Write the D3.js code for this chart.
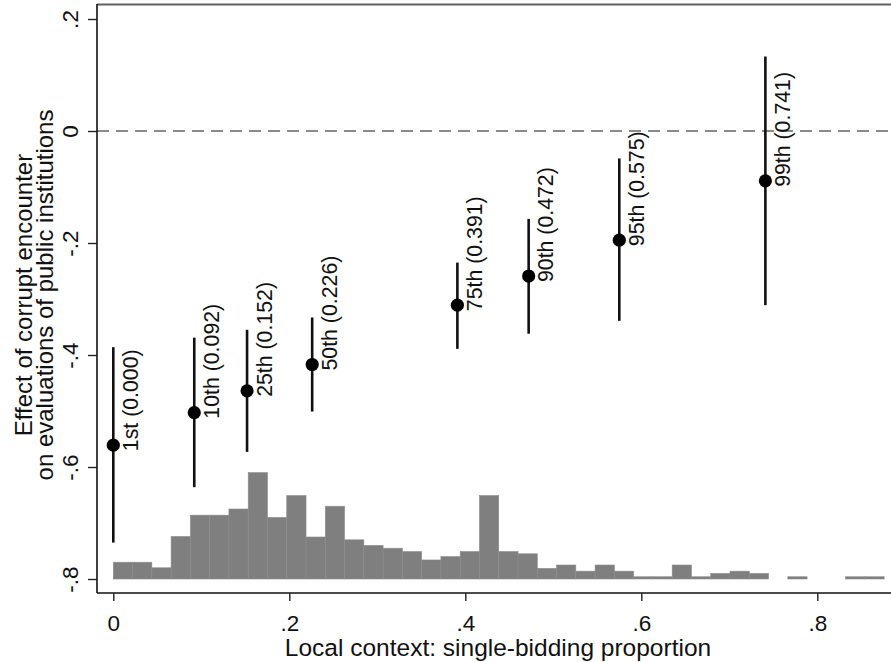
<!DOCTYPE html>
<html>
<head>
<meta charset="utf-8">
<script src="https://cdn.jsdelivr.net/npm/d3@7"></script>
<style>
  body { margin: 0; background: #fff; }
  svg { display: block; font-family: "Liberation Sans", Arial, Helvetica, sans-serif; }
</style>
</head>
<body>
<div id="chart"></div>
<script>
// Percentile labels and the single-bidding proportion at each of them
const pointLabels = ['1st (0.000)', '10th (0.092)', '25th (0.152)', '50th (0.226)',
                     '75th (0.391)', '90th (0.472)', '95th (0.575)', '99th (0.741)'];
const pointX = [0, 0.092, 0.152, 0.226, 0.391, 0.472, 0.575, 0.741];

// Marginal effect and 95% CI
const effect = [-0.561, -0.503, -0.464, -0.417, -0.311, -0.259, -0.195, -0.089];
const ciLow  = [-0.735, -0.636, -0.573, -0.501, -0.389, -0.362, -0.339, -0.311];
const ciHigh = [-0.386, -0.369, -0.355, -0.333, -0.235, -0.157, -0.049, 0.133];

// Histogram of the moderator: bin width and bar tops (drawn up from -.8), null = empty bin
const binWidth = 0.0219;
const histTop = [-0.770, -0.770, -0.780, -0.724, -0.686, -0.686, -0.675, -0.610, -0.690, -0.651,
                 -0.725, -0.670, -0.730, -0.740, -0.745, -0.751, -0.766, -0.760, -0.751, -0.651,
                 -0.751, -0.755, -0.781, -0.775, -0.786, -0.775, -0.786, -0.796, -0.796, -0.775,
                 -0.796, -0.790, -0.786, -0.790, null, -0.796, null, null, -0.796, -0.796];
const histBase = -0.8;

// Tick labels
const xTicks = [0, 0.2, 0.4, 0.6, 0.8];
const xTickLabels = ['0', '.2', '.4', '.6', '.8'];
const yTicks = [0.2, 0, -0.2, -0.4, -0.6, -0.8];
const yTickLabels = ['.2', '0', '-.2', '-.4', '-.6', '-.8'];

const W = 891, H = 662;
const plot = { left: 97, right: 891, top: 4, bottom: 593 };

const svg = d3.select('#chart').append('svg')
    .attr('width', W)
    .attr('height', H);

const x = d3.scaleLinear().domain([0, 0.8]).range([113.3, 817.3]);
const y = d3.scaleLinear().domain([-0.8, 0.2]).range([579, 19]);

// Histogram
svg.append('g')
    .selectAll('rect')
    .data(histTop.map((t, i) => ({ i, t })).filter(d => d.t !== null))
    .enter()
    .append('rect')
    .attr('x', d => x(d.i * binWidth))
    .attr('width', d => x((d.i + 1) * binWidth) - x(d.i * binWidth))
    .attr('y', d => y(d.t))
    .attr('height', d => y(histBase) - y(d.t))
    .attr('fill', '#7f7f7f')
    .attr('stroke', '#8c8c8c')
    .attr('stroke-width', 0.6);

// Reference line at zero
svg.append('line')
    .attr('x1', plot.left).attr('x2', plot.right)
    .attr('y1', y(0)).attr('y2', y(0))
    .attr('stroke', '#8a8a8a')
    .attr('stroke-width', 2)
    .attr('stroke-dasharray', '12,7');

// Confidence intervals
const pts = pointX.map((v, i) => ({ x: v, e: effect[i], lo: ciLow[i], hi: ciHigh[i], label: pointLabels[i] }));

svg.append('g')
    .selectAll('line')
    .data(pts)
    .enter()
    .append('line')
    .attr('x1', d => x(d.x)).attr('x2', d => x(d.x))
    .attr('y1', d => y(d.lo)).attr('y2', d => y(d.hi))
    .attr('stroke', '#111')
    .attr('stroke-width', 2.6);

// Point estimates
svg.append('g')
    .selectAll('circle')
    .data(pts)
    .enter()
    .append('circle')
    .attr('cx', d => x(d.x))
    .attr('cy', d => y(d.e))
    .attr('r', 6.6)
    .attr('fill', '#000');

// Marker labels, rotated
svg.append('g')
    .selectAll('text')
    .data(pts)
    .enter()
    .append('text')
    .attr('transform', d => `translate(${x(d.x) + 24.5},${y(d.e) + 6}) rotate(-90)`)
    .attr('font-size', 21.3)
    .attr('fill', '#111')
    .text(d => d.label);

// Frame
svg.append('line')
    .attr('x1', plot.left).attr('x2', plot.right)
    .attr('y1', plot.top + 0.5).attr('y2', plot.top + 0.5)
    .attr('stroke', '#606060').attr('stroke-width', 2);
svg.append('line')
    .attr('x1', plot.left).attr('x2', plot.left)
    .attr('y1', plot.top).attr('y2', plot.bottom)
    .attr('stroke', '#111').attr('stroke-width', 1.6);
svg.append('line')
    .attr('x1', plot.left).attr('x2', plot.right)
    .attr('y1', plot.bottom).attr('y2', plot.bottom)
    .attr('stroke', '#111').attr('stroke-width', 1.6);

// X axis
const xAxis = d3.axisBottom(x)
    .tickValues(xTicks)
    .tickFormat((d, i) => xTickLabels[i])
    .tickSizeOuter(0)
    .tickSize(8)
    .tickPadding(14);

const gx = svg.append('g')
    .attr('transform', `translate(0,${plot.bottom})`)
    .call(xAxis);
gx.select('.domain').remove();
gx.selectAll('line').attr('stroke', '#222').attr('stroke-width', 1.4);
gx.selectAll('text')
    .attr('font-size', 22.5)
    .attr('font-family', '"Liberation Sans", Arial, sans-serif')
    .attr('fill', '#111');

// Y axis
const yAxis = d3.axisLeft(y)
    .tickValues(yTicks)
    .tickFormat((d, i) => yTickLabels[i])
    .tickSizeOuter(0)
    .tickSize(9);

const gy = svg.append('g')
    .attr('transform', `translate(${plot.left},0)`)
    .call(yAxis);
gy.select('.domain').remove();
gy.selectAll('line').attr('stroke', '#222').attr('stroke-width', 1.4);
gy.selectAll('text')
    .attr('x', null)
    .attr('dy', null)
    .attr('transform', 'translate(-19,0) rotate(-90)')
    .attr('text-anchor', 'middle')
    .attr('font-size', 22.5)
    .attr('font-family', '"Liberation Sans", Arial, sans-serif')
    .attr('fill', '#111');

// Axis titles
svg.append('text')
    .attr('x', 498)
    .attr('y', 655.7)
    .attr('text-anchor', 'middle')
    .attr('font-size', 24.5)
    .attr('fill', '#111')
    .text('Local context: single-bidding proportion');

const yTitle = ['Effect of corrupt encounter', 'on evaluations of public institutions'];
svg.append('g')
    .selectAll('text')
    .data(yTitle)
    .enter()
    .append('text')
    .attr('transform', (d, i) => `translate(${32.3 + i * 20.5},295) rotate(-90)`)
    .attr('text-anchor', 'middle')
    .attr('font-size', 24)
    .attr('fill', '#111')
    .text(d => d);
</script>
</body>
</html>
